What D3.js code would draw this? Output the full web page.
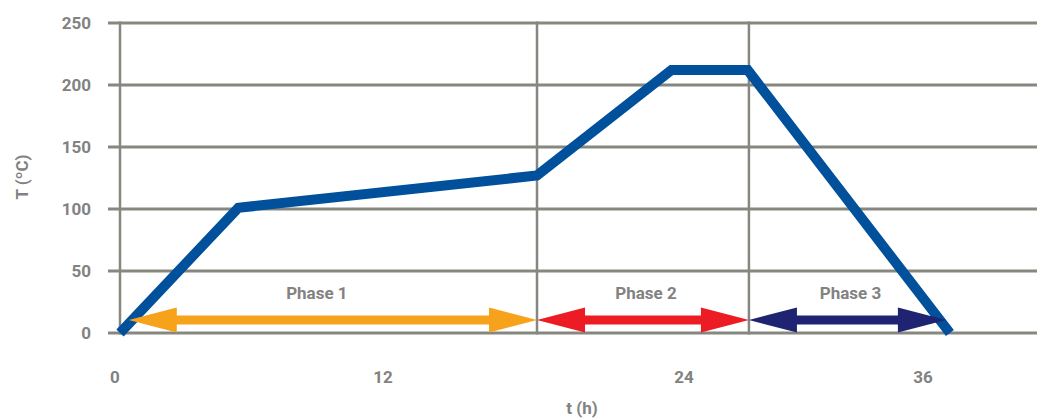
<!DOCTYPE html>
<html>
<head>
<meta charset="utf-8">
<script src="https://cdn.jsdelivr.net/npm/d3@7"></script>
<style>
  body { margin: 0; background: #fff; }
  text { font-family: Roboto, "DejaVu Sans", sans-serif; font-weight: bold; fill: #828282; }
</style>
</head>
<body>
<svg></svg>
<script>
// temperature profile (hours, degC)
var times = [0, 5.4, 18.14, 23.5, 27.2, 37.35];
var temps = [0, 101, 127, 212, 212, 0];

var yTicks = [0, 50, 100, 150, 200, 250];
var xTicks = [0, 12, 24, 36];

var phaseNames = ["Phase 1", "Phase 2", "Phase 3"];
var phaseStart = [0.4, 18.14, 27.26];
var phaseEnd = [18.14, 27.26, 37.15];
var phaseColors = ["#f7a21b", "#ed1c24", "#1e2471"];

var svgWidth = 1037;
var svgHeight = 418;
var gridColor = "#86877f";

var svg = d3.select("svg")
    .attr("width", svgWidth)
    .attr("height", svgHeight);

// the printed axis is not evenly spaced, so use a piecewise scale
var x = d3.scaleLinear()
    .domain([0, 12, 24, 36])
    .range([120, 383, 684, 923]);

var y = d3.scaleLinear()
    .domain([0, 250])
    .range([333, 23]);

// horizontal grid
svg.selectAll("line.hgrid")
    .data(yTicks)
    .enter()
    .append("line")
    .attr("class", "hgrid")
    .attr("x1", 108)
    .attr("x2", svgWidth)
    .attr("y1", function(d) { return y(d); })
    .attr("y2", function(d) { return y(d); })
    .attr("stroke", gridColor)
    .attr("stroke-width", 3);

// vertical lines: axis + phase boundaries
var vLines = [0, phaseEnd[0], phaseEnd[1]];
svg.selectAll("line.vgrid")
    .data(vLines)
    .enter()
    .append("line")
    .attr("class", "vgrid")
    .attr("x1", function(d) { return x(d); })
    .attr("x2", function(d) { return x(d); })
    .attr("y1", y(250) - 1.5)
    .attr("y2", y(0) + 1.5)
    .attr("stroke", gridColor)
    .attr("stroke-width", 2.5);

// y tick labels
svg.selectAll("text.ytick")
    .data(yTicks)
    .enter()
    .append("text")
    .attr("class", "ytick")
    .attr("x", 91)
    .attr("y", function(d) { return y(d); })
    .attr("dy", "0.36em")
    .attr("text-anchor", "end")
    .attr("font-size", "17px")
    .text(function(d) { return d; });

// x tick labels
svg.selectAll("text.xtick")
    .data(xTicks)
    .enter()
    .append("text")
    .attr("class", "xtick")
    .attr("x", function(d, i) { return x(d) - (i == 0 ? 5 : 0); })
    .attr("y", 377)
    .attr("dy", "0.36em")
    .attr("text-anchor", "middle")
    .attr("font-size", "17px")
    .text(function(d) { return d; });

// axis titles
svg.append("text")
    .attr("transform", "translate(22,177) rotate(-90)")
    .attr("dy", "0.36em")
    .attr("text-anchor", "middle")
    .attr("font-size", "17px")
    .text("T (ºC)");

svg.append("text")
    .attr("x", 582)
    .attr("y", 408)
    .attr("dy", "0.36em")
    .attr("text-anchor", "middle")
    .attr("font-size", "17px")
    .text("t (h)");

// temperature line
var line = d3.line()
    .x(function(d) { return x(d[0]); })
    .y(function(d) { return y(d[1]); });

// double-headed phase arrows
var arrowY = 320;
var headLen = 48, headHalf = 12.5, shaftHalf = 4.5;

function arrowPath(x0, x1) {
    return "M" + x0 + "," + arrowY +
        "L" + (x0 + headLen) + "," + (arrowY - headHalf) +
        "L" + (x0 + headLen) + "," + (arrowY - shaftHalf) +
        "L" + (x1 - headLen) + "," + (arrowY - shaftHalf) +
        "L" + (x1 - headLen) + "," + (arrowY - headHalf) +
        "L" + x1 + "," + arrowY +
        "L" + (x1 - headLen) + "," + (arrowY + headHalf) +
        "L" + (x1 - headLen) + "," + (arrowY + shaftHalf) +
        "L" + (x0 + headLen) + "," + (arrowY + shaftHalf) +
        "L" + (x0 + headLen) + "," + (arrowY + headHalf) + "Z";
}

svg.selectAll("path.arrow")
    .data(phaseNames)
    .enter()
    .append("path")
    .attr("class", "arrow")
    .attr("d", function(d, i) { return arrowPath(x(phaseStart[i]), x(phaseEnd[i])); })
    .attr("fill", function(d, i) { return phaseColors[i]; });

// orange arrow sits over the line start, line sits over the navy tip
svg.insert("path", "path.arrow")
    .datum(d3.zip(times, temps))
    .attr("d", line)
    .attr("fill", "none")
    .attr("stroke", "#00509b")
    .attr("stroke-width", 10)
    .attr("stroke-linejoin", "miter");

svg.selectAll("text.phase")
    .data(phaseNames)
    .enter()
    .append("text")
    .attr("class", "phase")
    .attr("x", function(d, i) { return (x(phaseStart[i]) + x(phaseEnd[i])) / 2 + (i == 0 ? -16 : 3); })
    .attr("y", 293)
    .attr("dy", "0.36em")
    .attr("text-anchor", "middle")
    .attr("font-size", "17px")
    .text(function(d) { return d; });
</script>
</body>
</html>
